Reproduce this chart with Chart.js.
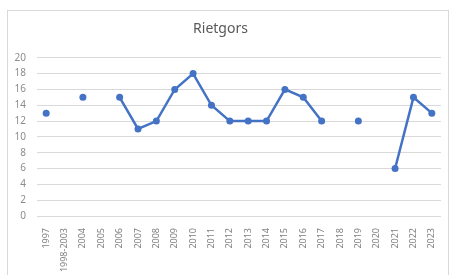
<!DOCTYPE html>
<html lang="nl">
<head>
    <meta charset="UTF-8">
    <title>Rietgors</title>
    <script src="https://cdn.jsdelivr.net/npm/chart.js"></script>
    <style>
        body {
            margin: 0;
            background-color: #ffffff;
        }
        #frame {
            position: absolute;
            left: 7px;
            top: 10px;
            width: 440px;
            height: 270px;
            border: 1px solid #d9d9d9;
        }
        .chart-container {
            position: absolute;
            left: 0;
            top: 0;
            width: 449px;
            height: 275px;
        }
    </style>
</head>
<body>
    <div id="frame"></div>
    <div class="chart-container">
        <canvas id="myChart"></canvas>
    </div>

    <script>
        const years = ['1997', '1998-2003', '2004', '2005', '2006', '2007', '2008', '2009', '2010', '2011',
            '2012', '2013', '2014', '2015', '2016', '2017', '2018', '2019', '2020', '2021', '2022', '2023'];
        const counts = [13, null, 15, null, 15, 11, 12, 16, 18, 14,
            12, 12, 12, 16, 15, 12, null, 12, null, 6, 15, 13];
        const yTicks = [0, 2, 4, 6, 8, 10, 12, 14, 16, 18, 20];

        const blue = '#4472c4';

        const ctx = document.getElementById('myChart').getContext('2d');
        new Chart(ctx, {
            type: 'line',
            data: {
                labels: years,
                datasets: [{
                    label: 'Rietgors',
                    data: counts,
                    borderColor: blue,
                    backgroundColor: blue,
                    borderWidth: 2.5,
                    pointRadius: 3.5,
                    pointBorderWidth: 0,
                    spanGaps: false,
                    tension: 0
                }]
            },
            options: {
                responsive: true,
                maintainAspectRatio: false,
                animation: false,
                layout: {
                    padding: { left: 0, right: 8, top: 0, bottom: 0 }
                },
                plugins: {
                    legend: { display: false },
                    tooltip: { enabled: false },
                    title: {
                        display: true,
                        text: 'Rietgors',
                        color: '#595959',
                        font: { family: 'Noto Sans', size: 14, weight: 'normal' },
                        padding: { top: 21, bottom: 20 }
                    }
                },
                scales: {
                    x: {
                        offset: true,
                        grid: { display: false },
                        border: { display: false },
                        ticks: {
                            color: '#7f7f7f',
                            font: { family: 'Noto Sans', size: 9 },
                            minRotation: 90,
                            maxRotation: 90,
                            autoSkip: false,
                            padding: 4
                        },
                        afterFit: s => { s.height = 59; }
                    },
                    y: {
                        min: 0,
                        max: 20,
                        afterBuildTicks: s => { s.ticks = yTicks.map(v => ({ value: v })); },
                        grid: { color: '#d9d9d9', drawTicks: false, lineWidth: 1 },
                        border: { display: false },
                        ticks: {
                            color: '#8c8c8c',
                            font: { family: 'Noto Sans', size: 10 },
                            padding: 11
                        },
                        afterFit: s => { s.width = 37; }
                    }
                }
            }
        });
    </script>
</body>
</html>
